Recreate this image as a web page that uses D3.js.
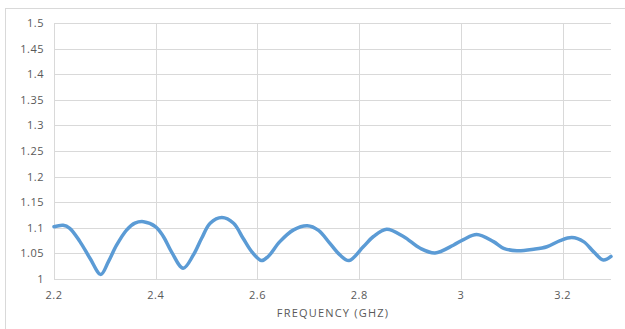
<!DOCTYPE html>
<html>
<head>
<meta charset="utf-8">
<style>
body { margin:0; background:#fff; }
svg text { font-family:"Open Sans", sans-serif; fill:#595959; }
</style>
</head>
<body>
<svg id="chart" width="625" height="329"></svg>
<script src="https://d3js.org/d3.v7.min.js"></script>
<script>
// frequency (GHz) and VSWR
var freq = [2.2, 2.218, 2.231, 2.251, 2.271, 2.292, 2.307, 2.323, 2.343, 2.359, 2.376, 2.4, 2.415, 2.431,
	2.454, 2.474, 2.49, 2.507, 2.53, 2.553, 2.572, 2.589, 2.608, 2.621, 2.644, 2.671, 2.698, 2.72,
	2.742, 2.762, 2.78, 2.808, 2.828, 2.854, 2.887, 2.92, 2.949, 2.985, 3.005, 3.031, 3.064, 3.084,
	3.11, 3.143, 3.169, 3.195, 3.218, 3.241, 3.261, 3.28, 3.295];
var vswr = [1.102, 1.105, 1.099, 1.073, 1.04, 1.009, 1.034, 1.066, 1.096, 1.109, 1.112, 1.102, 1.083, 1.053,
	1.021, 1.047, 1.079, 1.109, 1.12, 1.109, 1.079, 1.053, 1.036, 1.044, 1.073, 1.096, 1.104, 1.095,
	1.07, 1.047, 1.036, 1.063, 1.083, 1.097, 1.083, 1.06, 1.051, 1.066, 1.077, 1.087, 1.073, 1.06,
	1.055, 1.058, 1.063, 1.075, 1.081, 1.073, 1.053, 1.037, 1.044];
var xTicks = [2.2, 2.4, 2.6, 2.8, 3, 3.2];
var yTicks = [1, 1.05, 1.1, 1.15, 1.2, 1.25, 1.3, 1.35, 1.4, 1.45, 1.5];
var xTitle = "FREQUENCY (GHZ)";

var svg = d3.select("#chart");
var pLeft = 54, pRight = 611, pTop = 23, pBottom = 279;

var x = d3.scaleLinear().domain([2.2, 3.295]).range([pLeft, pRight]);
var y = d3.scaleLinear().domain([1, 1.5]).range([pBottom, pTop]);

// chart frame
svg.append("rect").attr("x", 5.5).attr("y", 8.5).attr("width", 700).attr("height", 400)
	.attr("fill", "none").attr("stroke", "#d9d9d9");

// gridlines
svg.append("g").selectAll("line").data(yTicks).join("line")
	.attr("x1", pLeft).attr("x2", pRight)
	.attr("y1", function(d) {return Math.round(y(d)) + 0.5}).attr("y2", function(d) {return Math.round(y(d)) + 0.5})
	.attr("stroke", "#d9d9d9");
svg.append("g").selectAll("line").data(xTicks).join("line")
	.attr("x1", function(d) {return Math.round(x(d)) + 0.5}).attr("x2", function(d) {return Math.round(x(d)) + 0.5})
	.attr("y1", pTop).attr("y2", pBottom)
	.attr("stroke", "#d9d9d9");

// tick labels
svg.append("g").selectAll("text").data(yTicks).join("text")
	.attr("x", 44).attr("y", function(d) {return y(d) + 4})
	.attr("text-anchor", "end").attr("font-size", 11).attr("letter-spacing", 0.5)
	.text(function(d) {return d});
svg.append("g").selectAll("text").data(xTicks).join("text")
	.attr("x", function(d) {return x(d)}).attr("y", 299)
	.attr("text-anchor", "middle").attr("font-size", 11).attr("letter-spacing", 0.5)
	.text(function(d) {return d});
svg.append("text").attr("x", 333).attr("y", 317).attr("text-anchor", "middle")
	.attr("font-size", 11).attr("letter-spacing", 1.2).text(xTitle);

// curve
var line = d3.line()
	.x(function(d, i) {return x(freq[i])})
	.y(function(d) {return y(d)})
	.curve(d3.curveCatmullRom.alpha(0.5));
svg.append("path").datum(vswr).attr("d", line)
	.attr("fill", "none").attr("stroke", "#5b9bd5").attr("stroke-width", 3.5)
	.attr("stroke-linejoin", "round").attr("stroke-linecap", "round");
</script>
</body>
</html>
